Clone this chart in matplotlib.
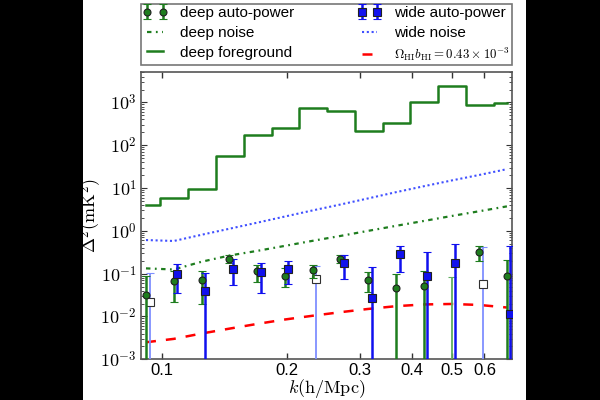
import matplotlib
matplotlib.use("Agg")
import matplotlib.pyplot as plt
import numpy as np
from matplotlib.patches import Rectangle
from matplotlib.ticker import FixedLocator, FuncFormatter, LogLocator, NullLocator

plt.rcParams['font.family'] = ['Liberation Sans', 'DejaVu Sans']
plt.rcParams['mathtext.fontset'] = 'cm'

# ---------------- data ----------------
k_bins = [0.0913, 0.1066, 0.1244, 0.1452, 0.1694, 0.1977, 0.2307,
          0.2693, 0.3143, 0.3668, 0.4280, 0.4996, 0.5830, 0.6800]

deep_fg = [4.0, 5.7, 9.3, 57, 170, 247, 737, 627, 217, 334, 1000, 2370, 880, 950]

deep_noise = [0.133, 0.125, 0.19, 0.265, 0.34, 0.446, 0.585, 0.76, 1.0,
              1.31, 1.70, 2.22, 2.87, 3.73]

wide_noise = [0.61, 0.58, 0.81, 1.12, 1.55, 2.16, 3.0, 4.12, 5.73,
              8.0, 11.0, 15.0, 20.2, 27.6]

theory = [0.0025, 0.0030, 0.0040, 0.0052, 0.0067, 0.0085, 0.0104,
          0.0126, 0.0150, 0.0174, 0.0191, 0.0196, 0.0186, 0.0162]

BELOW = 1e-6  # error bar runs off the bottom of the axes

deep_val = [0.032, 0.068, 0.071, 0.22, 0.117, 0.0895, 0.122, 0.225,
            0.071, 0.0455, 0.0515, 5e-4, 0.32, 0.0895]
deep_hi = [0.0895, 0.117, 0.117, 0.272, 0.16, 0.133, 0.16, 0.28,
           0.111, 0.0966, 0.117, 0.085, 0.442, 0.208]
deep_lo = [BELOW, 0.022, 0.020, 0.18, 0.065, 0.0496, 0.078, 0.175,
           0.038, BELOW, BELOW, BELOW, 0.2, BELOW]
deep_neg = [False, False, False, False, False, False, False, False,
            False, False, False, True, False, False]

wide_val = [0.0221, 0.098, 0.040, 0.126, 0.107, 0.128, 0.074, 0.174,
            0.0266, 0.283, 0.0895, 0.174, 0.0564, 0.0112]
wide_hi = [0.105, 0.165, 0.102, 0.22, 0.18, 0.2, 0.15, 0.272,
           0.145, 0.449, 0.325, 0.484, 0.43, 0.44]
wide_lo = [BELOW, 0.0359, BELOW, 0.054, 0.0347, 0.057, BELOW, 0.074,
           BELOW, 0.111, BELOW, BELOW, BELOW, BELOW]
wide_neg = [True, False, False, False, False, False, True, False,
            False, False, False, False, True, False]

x_ticks = [0.1, 0.2, 0.3, 0.4, 0.5, 0.6]
x_ticklabels = ['0.1', '0.2', '0.3', '0.4', '0.5', '0.6']

# ---------------- figure ----------------
fig = plt.figure(figsize=(6, 4), dpi=100)
fig.patch.set_facecolor('black')
fig.add_artist(Rectangle((83 / 600, 0), 443 / 600, 1, transform=fig.transFigure,
                         facecolor='white', edgecolor='none', zorder=-10))

ax = fig.add_axes([141 / 600, 1 - 359.3 / 400, 371 / 600, 287.3 / 400])

GREEN = '#1e7d1e'
LGREEN = '#5fae5f'
BLUE = '#1010ee'
LBLUE = '#7f8fff'

k = np.array(k_bins)
kw = k * 1.02

fg_line, = ax.plot(k, deep_fg, drawstyle='steps-mid', color=GREEN, lw=1.8, zorder=3)
dn_line, = ax.plot(k, deep_noise, color=GREEN, lw=1.6,
                   linestyle=(0, (2, 2, 0.8, 2)), zorder=3)
wn_line, = ax.plot(k, wide_noise, color='#4050ff', lw=1.5,
                   linestyle=(0, (1, 1.3)), zorder=3)
th_line, = ax.plot(k, theory, color='red', lw=1.8,
                   linestyle=(0, (4, 4)), zorder=3)


def draw_set(xs, val, lo, hi, neg, fmt, col, lcol, ms):
    val = np.array(val)
    lo = np.array(lo)
    hi = np.array(hi)
    neg = np.array(neg)
    pos = ~neg
    h = ax.errorbar(xs[pos], val[pos], yerr=[val[pos] - lo[pos], hi[pos] - val[pos]],
                    fmt=fmt, color=col, ecolor=col, mfc=col, mec='#202020',
                    ms=ms, mew=0.8, elinewidth=1.8, capsize=3, capthick=1.2,
                    zorder=5)
    ax.errorbar(xs[neg], val[neg], yerr=[val[neg] - lo[neg], hi[neg] - val[neg]],
                fmt=fmt, color=lcol, ecolor=lcol, mfc='white', mec='#303030',
                ms=ms, mew=0.8, elinewidth=1.3, capsize=3, capthick=1.0,
                zorder=4)
    return h


deep_h = draw_set(k, deep_val, deep_lo, deep_hi, deep_neg, 'o', GREEN, LGREEN, 5)
wide_h = draw_set(kw, wide_val, wide_lo, wide_hi, wide_neg, 's', BLUE, LBLUE, 5.5)

ax.set_xscale('log')
ax.set_yscale('log')
ax.set_xlim(0.0888, 0.6995)
ax.set_ylim(1e-3, 10 ** 3.71)

ax.xaxis.set_major_locator(FixedLocator(x_ticks))
ax.xaxis.set_minor_locator(NullLocator())
ax.set_xticklabels(x_ticklabels, fontsize=12)
ax.yaxis.set_major_locator(FixedLocator([1e-3, 1e-2, 1e-1, 1e0, 1e1, 1e2, 1e3]))
ax.yaxis.set_minor_locator(LogLocator(base=10, subs=np.arange(2, 10), numticks=20))
ax.yaxis.set_major_formatter(FuncFormatter(lambda v, p: r'$10^{%d}$' % round(np.log10(v))))
ax.tick_params(axis='both', which='both', direction='in', top=True, right=True,
               color='#333333')
ax.tick_params(axis='x', which='major', length=4, width=1, pad=3)
ax.tick_params(axis='y', which='major', length=4, width=0.8, labelsize=13, pad=3)
ax.tick_params(axis='y', which='minor', length=2, width=0.6)
for s in ax.spines.values():
    s.set_color('#555555')
    s.set_linewidth(1.2)

ax.set_xlabel(r'$k(\mathrm{h/Mpc})$', fontsize=13)
ax.xaxis.set_label_coords(0.5, -0.062)
ax.set_ylabel(r'$\Delta^2(\mathrm{mK}^2)$', fontsize=13)
ax.yaxis.set_label_coords(-0.10, 0.5)

handles = [deep_h, dn_line, fg_line, wide_h, wn_line, th_line]
labels = ['deep auto-power', 'deep noise', 'deep foreground',
          'wide auto-power', 'wide noise',
          r'$\Omega_{\rm HI}b_{\rm HI} = 0.43\times10^{-3}$']
leg = ax.legend(handles, labels, ncol=2, loc='lower left',
                bbox_to_anchor=(0, 1.0244, 1, 0.2157), mode='expand',
                borderaxespad=0, fontsize=11, numpoints=2, handlelength=1.6,
                fancybox=False, frameon=True, labelspacing=0.38,
                handletextpad=0.8, borderpad=0.12)
leg.get_texts()[5].set_fontsize(9.3)
leg.get_frame().set_edgecolor('#555555')
leg.get_frame().set_linewidth(1.2)

fig.savefig('out.png', dpi=100, facecolor=fig.get_facecolor())
